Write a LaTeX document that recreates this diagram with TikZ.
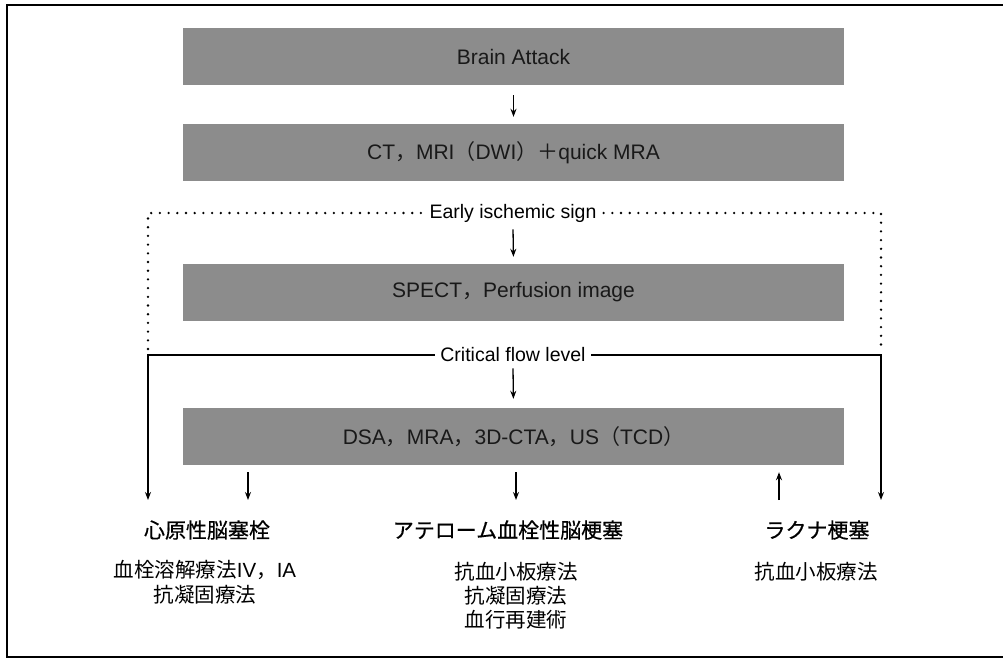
\documentclass[tikz,border=0pt]{standalone}
\usepackage{fontspec}
\setmainfont{Liberation Sans}
\newfontfamily\cjk{Noto Sans CJK JP}
\newfontfamily\cjkm[FakeBold=0.6]{Noto Sans CJK JP}
\usetikzlibrary{arrows.meta}
\begin{document}
\begin{tikzpicture}[x=1pt,y=-1pt,
  box/.style={draw=none, fill=black!45, minimum width=661pt, minimum height=57pt, inner sep=0pt, font=\fontsize{21}{23}\selectfont, text=black!90},
  lbl/.style={fill=white, inner sep=5pt, font=\fontsize{19.5}{21}\selectfont},
  jp/.style={font=\cjk\fontsize{20.5}{22}\selectfont, inner sep=0pt},
  jpm/.style={font=\cjkm\fontsize{21}{23}\selectfont, inner sep=0pt},
  arr/.style={-{Stealth[length=8pt,width=6pt]}, line width=1.3pt},
  dotline/.style={line width=2.6pt, line cap=round, dash pattern=on 0pt off 8.7pt},
  frame/.style={line width=1.2pt}
]
\useasboundingbox (0,0) rectangle (1003,659);
\draw[frame] (1003,5) -- (7,5) -- (7,657) -- (1003,657);

% boxes
\node[box] (b1) at (513.5,56.5) {Brain Attack};
\node[box] (b2) at (513.5,152.5) {CT{\cjk ，}MRI{\cjk （}DWI{\cjk ）＋}quick MRA};
\node[box] (b3) at (513.5,292.5) {SPECT{\cjk ，}Perfusion image};
\node[box] (b4) at (513.5,436.5) {DSA{\cjk ，}MRA{\cjk ，}3D-CTA{\cjk ，}US{\cjk （}TCD{\cjk ）}};

% frame coordinates
\coordinate (dl) at (148,213);
\coordinate (dr) at (881,213);
\coordinate (dle) at (148,349);
\coordinate (dre) at (881,349);
\coordinate (sl) at (148,355);
\coordinate (sr) at (881,355);
\coordinate (al) at (148,500);
\coordinate (ar) at (881,500);
\coordinate (t1) at (248,500);
\coordinate (t2) at (516,500);
\coordinate (t3) at (779,500);

\draw[dotline] (dle) -- (dl) -- (dr) -- (dre);
\node[lbl] (early) at (513,213) {Early ischemic sign};

\draw[line width=1.3pt, {Stealth[length=8pt,width=6pt]}-{Stealth[length=8pt,width=6pt]}] (al) -- (sl) -- (sr) -- (ar);
\node[lbl] (crit) at (513,355) {Critical flow level};

% arrows
\draw[arr, shorten <=3pt, shorten >=7pt] (b1.south) ++(0,7) -- (b2.north);
\draw[arr, shorten <=2pt, shorten >=7pt] (early.south) -- (b3.north);
\draw[arr, shorten <=1pt, shorten >=9pt] (crit.south) -- (b4.north);
\draw[arr, shorten <=7pt] (t1 |- b4.south) -- (t1);
\draw[arr, shorten <=7pt] (t2 |- b4.south) -- (t2);
\draw[arr, shorten >=7pt] (t3) -- (t3 |- b4.south);

% labels
\node[jpm] (k1) at (207,530) {心原性脳塞栓};
\node[jp] (k1a) at (205,570) {血栓溶解療法{\rmfamily IV}，{\rmfamily IA}};
\node[jp] (k1b) at (205,595) {抗凝固療法};
\node[jpm] (k2) at (508,530) {アテローム血栓性脳梗塞};
\node[jp] (k2a) at (516,572) {抗血小板療法};
\node[jp] (k2b) at (516,596) {抗凝固療法};
\node[jp] (k2c) at (516,620) {血行再建術};
\node[jpm] (k3) at (817,530) {ラクナ梗塞};
\node[jp] (k3a) at (816,572) {抗血小板療法};
\end{tikzpicture}
\end{document}
